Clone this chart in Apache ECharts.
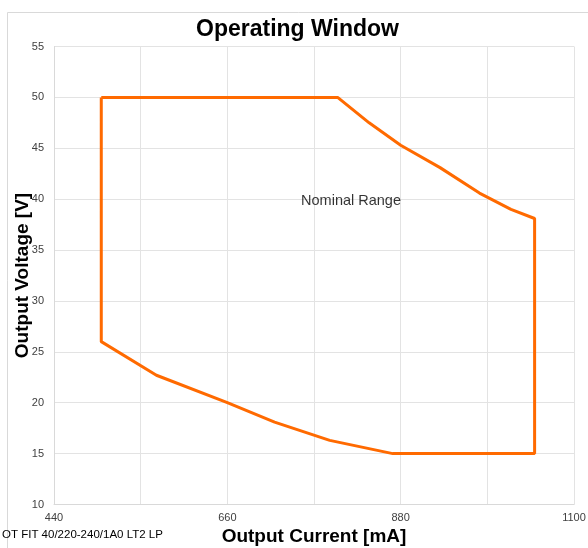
<!DOCTYPE html>
<html><head><meta charset="utf-8">
<script src="https://cdn.jsdelivr.net/npm/echarts@6/dist/echarts.min.js"></script>
<style>html,body{margin:0;padding:0;background:#fff}#c{width:588px;height:548px}</style>
</head><body><div id="c"></div>
<script>
const currentMA = [500, 800, 840, 880, 930, 980, 1020, 1050, 1050, 870, 790, 720, 660, 570, 500, 500];
const voltageV  = [50, 50, 47.5, 45.3, 43.1, 40.6, 39, 38.1, 15, 15, 16.3, 18.1, 20, 22.7, 26, 50];
const xTicks = [440, 660, 880, 1100];
const yRange = [10, 55];
const labelText = 'Nominal Range';
const labelPos = [817, 39.8];

const chart = echarts.init(document.getElementById('c'), null, {renderer: 'canvas'});
const font = '"Liberation Sans", Arial, sans-serif';
chart.setOption({
  animation: false,
  backgroundColor: '#fff',
  title: {text: 'Operating Window', left: 191, top: 13,
    textStyle: {fontFamily: font, fontSize: 23, fontWeight: 'bold', color: '#000'}},
  grid: {left: 54, right: 14, top: 46.5, bottom: 43.5, containLabel: false, outerBoundsMode: 'none'},
  xAxis: {type: 'value', min: 440, max: 1100, interval: 110,
    axisLine: {show: true, lineStyle: {color: '#d9d9d9'}}, axisTick: {show: false},
    splitLine: {show: true, lineStyle: {color: '#e3e3e3'}},
    axisLabel: {fontFamily: font, fontSize: 11, color: '#404040', margin: 8,
      formatter: v => xTicks.includes(v) ? String(v) : ''},
    name: 'Output Current [mA]', nameLocation: 'middle', nameGap: 23, nameMoveOverlap: false,
    nameTextStyle: {fontFamily: font, fontSize: 19, fontWeight: 'bold', color: '#000'}},
  yAxis: {type: 'value', min: yRange[0], max: yRange[1], interval: 5,
    axisLine: {show: true, lineStyle: {color: '#d9d9d9'}}, axisTick: {show: false},
    splitLine: {show: true, lineStyle: {color: '#e3e3e3'}},
    axisLabel: {fontFamily: font, fontSize: 11, color: '#404040', margin: 10},
    name: 'Output Voltage [V]', nameLocation: 'middle', nameGap: 22, nameMoveOverlap: false,
    nameTextStyle: {fontFamily: font, fontSize: 19, fontWeight: 'bold', color: '#000'}},
  graphic: [
    {type: 'rect', shape: {x: 7.5, y: 12.5, width: 600, height: 600}, style: {fill: 'none', stroke: '#d9d9d9', lineWidth: 1}, silent: true},
    {type: 'text', left: 2, top: 529, style: {text: 'OT FIT 40/220-240/1A0 LT2 LP', font: '11.5px ' + font, fill: '#000'}}
  ],
  series: [
    {type: 'line', data: currentMA.map((x, i) => [x, voltageV[i]]), showSymbol: false, symbol: 'none',
      lineStyle: {color: '#ff6a00', width: 3}, z: 3},
    {type: 'scatter', data: [labelPos], symbolSize: 0,
      label: {show: true, formatter: labelText, position: 'inside', fontFamily: font, fontSize: 14.5, color: '#000'}}
  ]
});
</script></body></html>
